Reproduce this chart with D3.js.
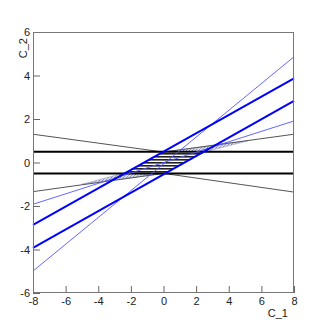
<!DOCTYPE html>
<html>
<head>
<meta charset="utf-8">
<script src="https://cdn.jsdelivr.net/npm/d3@7"></script>
<style>
  body { margin: 0; background: #fff; }
  text { font-family: "Liberation Sans", Arial, sans-serif; }
</style>
</head>
<body>
<svg id="chart" width="327" height="327"></svg>
<script>
// axis ranges and ticks
var xDomain = [-8, 8];
var yDomain = [-6, 6];
var xMajor = [-8, -6, -4, -2, 0, 2, 4, 6, 8];
var yMajor = [-6, -4, -2, 0, 2, 4, 6];
var minorStep = 0.5;

// constraint lines, end points (C_1, C_2)
var blackLines = [
  [[-8, 0.5], [8, 0.5]],
  [[-8, -0.5], [8, -0.5]]
];
var vLines = [
  [[-8, 1.30], [0, 0.48], [8, 1.30]],
  [[-8, -1.34], [0, -0.5], [8, -1.36]]
];
var thickBlue = [
  [[-8, -2.87], [8, 3.87]],
  [[-8, -3.92], [8, 2.83]]
];
var thinBlue = [
  [[-8, -4.99], [8, 4.86]],
  [[-8, -1.92], [8, 1.91]]
];

// filled areas
var hatchArea = [[0, 0.5], [2.6, 0.5], [0.1, -0.5], [-2.5, -0.5]];
var speckleAreas = [
  [[0, 0.48], [5.2, 1.0], [0, 0]],
  [[0, -0.5], [-5.0, -1.0], [0, 0]]
];

var svg = d3.select("#chart");

var x = d3.scaleLinear().domain(xDomain).range([33, 294]);
var y = d3.scaleLinear().domain(yDomain).range([293, 32]);

var line = d3.line()
  .x(function(d) { return x(d[0]); })
  .y(function(d) { return y(d[1]); });

var defs = svg.append("defs");

// horizontal hatch
var hatch = defs.append("pattern")
  .attr("id", "hatch")
  .attr("patternUnits", "userSpaceOnUse")
  .attr("width", 6)
  .attr("height", 3);
hatch.append("rect").attr("width", 6).attr("height", 3).attr("fill", "#fff");
hatch.append("rect").attr("y", 0).attr("width", 6).attr("height", 1.6).attr("fill", "#222");

// dotted fill
var speck = defs.append("pattern")
  .attr("id", "speck")
  .attr("patternUnits", "userSpaceOnUse")
  .attr("width", 3)
  .attr("height", 3);
speck.append("rect").attr("width", 3).attr("height", 3).attr("fill", "#d9dcea");
speck.append("rect").attr("x", 0).attr("y", 0).attr("width", 1).attr("height", 1).attr("fill", "#7f88b4");
speck.append("rect").attr("x", 2).attr("y", 1).attr("width", 1).attr("height", 1).attr("fill", "#a4aacb");
speck.append("rect").attr("x", 1).attr("y", 2).attr("width", 1).attr("height", 1).attr("fill", "#959cc2");

var plot = svg.append("g");

plot.selectAll(".speckle")
  .data(speckleAreas)
  .enter().append("path")
  .attr("class", "speckle")
  .attr("d", function(d) { return line(d) + "Z"; })
  .attr("fill", "url(#speck)")
  .attr("stroke", "#9aa0c0")
  .attr("stroke-width", 0.6);

plot.append("path")
  .attr("d", line(hatchArea) + "Z")
  .attr("fill", "url(#hatch)");

plot.selectAll(".vline")
  .data(vLines)
  .enter().append("path")
  .attr("class", "vline")
  .attr("d", line)
  .attr("fill", "none")
  .attr("stroke", "#555")
  .attr("stroke-width", 1);

plot.selectAll(".hline")
  .data(blackLines)
  .enter().append("path")
  .attr("class", "hline")
  .attr("d", line)
  .attr("fill", "none")
  .attr("stroke", "#000")
  .attr("stroke-width", 2);

plot.selectAll(".thin")
  .data(thinBlue)
  .enter().append("path")
  .attr("class", "thin")
  .attr("d", line)
  .attr("fill", "none")
  .attr("stroke", "#5555ff")
  .attr("stroke-width", 0.9);

plot.selectAll(".thick")
  .data(thickBlue)
  .enter().append("path")
  .attr("class", "thick")
  .attr("d", line)
  .attr("fill", "none")
  .attr("stroke", "#0000ff")
  .attr("stroke-width", 2);

// axes, ticks pointing inside
var xMinor = d3.range(xDomain[0], xDomain[1] + 0.01, minorStep);
var yMinor = d3.range(yDomain[0], yDomain[1] + 0.01, minorStep);

var fmt = function(d) { return String(d); };

var gx = svg.append("g").attr("transform", "translate(0,293)");
gx.call(d3.axisBottom(x).tickValues(xMinor).tickSize(-3.5).tickFormat(""));
gx.call(d3.axisBottom(x).tickValues(xMajor).tickSize(-7).tickPadding(4).tickFormat(fmt));

var gy = svg.append("g").attr("transform", "translate(33,0)");
gy.call(d3.axisLeft(y).tickValues(yMinor).tickSize(-3.5).tickFormat(""));
gy.call(d3.axisLeft(y).tickValues(yMajor).tickSize(-7).tickPadding(3).tickFormat(fmt));

svg.selectAll(".domain").remove();
svg.selectAll(".tick line").attr("stroke", "#666");
svg.selectAll(".tick text")
  .attr("fill", "#222")
  .style("font-size", "11px")
  .style("font-family", "'Liberation Sans', Arial, sans-serif");

// frame
svg.append("rect")
  .attr("x", 33.5)
  .attr("y", 32.5)
  .attr("width", 260)
  .attr("height", 260)
  .attr("fill", "none")
  .attr("stroke", "#777")
  .attr("stroke-width", 1);

// axis titles
svg.append("text")
  .attr("x", 288)
  .attr("y", 317)
  .attr("text-anchor", "end")
  .attr("fill", "#222")
  .style("font-size", "11px")
  .text("C_1");

svg.append("text")
  .attr("transform", "translate(27,38) rotate(-90)")
  .attr("text-anchor", "end")
  .attr("fill", "#222")
  .style("font-size", "11px")
  .text("C_2");
</script>
</body>
</html>
